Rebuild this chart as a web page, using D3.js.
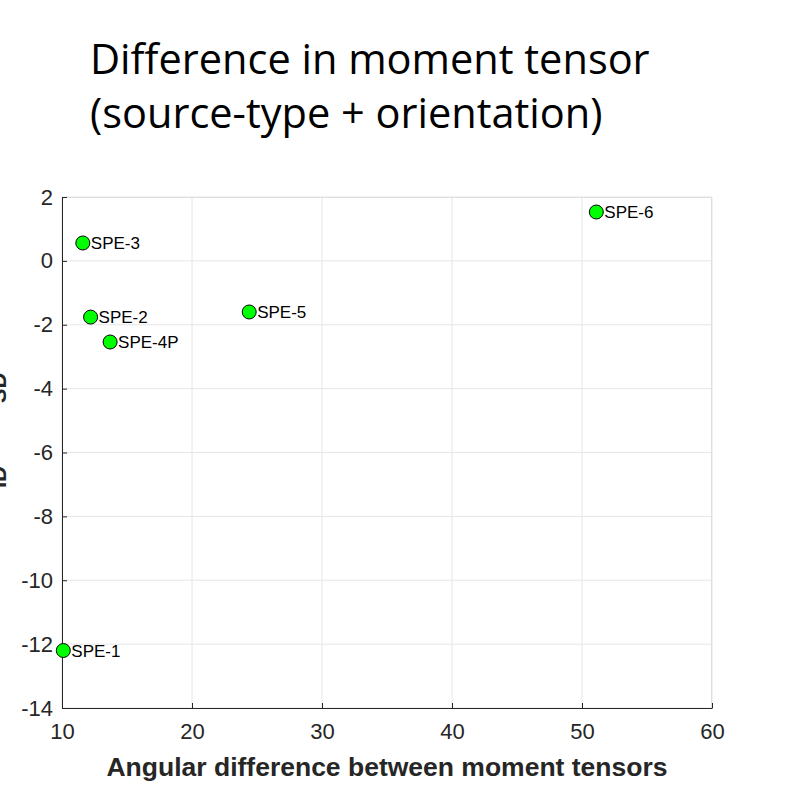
<!DOCTYPE html>
<html>
<head>
<meta charset="utf-8">
<script src="https://cdn.jsdelivr.net/npm/d3@7"></script>
<style>
  body { margin: 0; background: #fff; }
  svg { display: block; }
</style>
</head>
<body>
<div id="chart"></div>
<script>
// data
const names = ["SPE-1", "SPE-2", "SPE-3", "SPE-4P", "SPE-5", "SPE-6"];
const angleDiff = [10.1, 12.2, 11.6, 13.7, 24.4, 51.1];
const sizeDiff = [-12.2, -1.76, 0.56, -2.54, -1.6, 1.53];
const xTicks = [10, 20, 30, 40, 50, 60];
const yTicks = [2, 0, -2, -4, -6, -8, -10, -12, -14];

const width = 803, height = 797;
const margin = { top: 197, right: 91, bottom: 89, left: 62 };
const w = width - margin.left - margin.right;
const h = height - margin.top - margin.bottom;

const svg = d3.select("#chart").append("svg")
  .attr("width", width)
  .attr("height", height);

// title
const title = svg.append("text")
  .attr("font-family", "Open Sans, sans-serif")
  .attr("font-size", 41.5)
  .attr("fill", "#000");
title.append("tspan").attr("x", 90).attr("y", 74).text("Difference in moment tensor");
title.append("tspan").attr("x", 90).attr("y", 128).text("(source-type + orientation)");

const bounds = svg.append("g")
  .attr("transform", `translate(${margin.left},${margin.top})`);

const xScale = d3.scaleLinear().domain([10, 60]).range([0, w]);
const yScale = d3.scaleLinear().domain([-14, 2]).range([h, 0]);

// grid
bounds.append("g").selectAll("line").data(xTicks).join("line")
  .attr("x1", d => xScale(d)).attr("x2", d => xScale(d))
  .attr("y1", 0).attr("y2", h)
  .attr("stroke", "#e6e6e6");
bounds.append("g").selectAll("line").data(yTicks).join("line")
  .attr("x1", 0).attr("x2", w)
  .attr("y1", d => yScale(d)).attr("y2", d => yScale(d))
  .attr("stroke", "#e6e6e6");

// box top / right
bounds.append("path")
  .attr("d", `M0,0.5H${w - 0.5}V${h}`)
  .attr("fill", "none")
  .attr("stroke", "#dedede");

// axes (ticks inward, MATLAB style)
const fmt = d => String(d);
const xAxis = bounds.append("g")
  .attr("transform", `translate(0,${h})`)
  .call(d3.axisBottom(xScale).tickValues(xTicks).tickFormat(fmt)
    .tickSizeInner(-5).tickSizeOuter(0).tickPadding(15));
const yAxis = bounds.append("g")
  .call(d3.axisLeft(yScale).tickValues(yTicks).tickFormat(fmt)
    .tickSizeInner(-5).tickSizeOuter(0).tickPadding(9));

[xAxis, yAxis].forEach(a => {
  a.attr("font-size", null).attr("font-family", null);
  a.select(".domain").attr("stroke", "#262626");
  a.selectAll(".tick line").attr("stroke", "#262626");
  a.selectAll(".tick text")
    .attr("fill", "#262626")
    .attr("font-family", "Liberation Sans, Arial, sans-serif")
    .attr("font-size", 22);
});

// x axis label
svg.append("text")
  .attr("x", margin.left + w / 2)
  .attr("y", 776)
  .attr("text-anchor", "middle")
  .attr("font-family", "Liberation Sans, Arial, sans-serif")
  .attr("font-weight", "bold")
  .attr("font-size", 26.5)
  .attr("fill", "#262626")
  .text("Angular difference between moment tensors");

// y label: cut off by the left edge, only the subscripts peek in
const yParts = [
  { t: "M", y: 510, dx: -3, size: 26 },
  { t: "ID", y: 477, dx: 6, size: 22 },
  { t: "\u2212 M", y: 426, dx: -3, size: 26 },
  { t: "SD", y: 388, dx: 6, size: 22 }
];
svg.append("g").selectAll("text").data(yParts).join("text")
  .attr("transform", d => `translate(${d.dx},${d.y}) rotate(-90)`)
  .attr("text-anchor", "middle")
  .attr("font-family", "Liberation Sans, Arial, sans-serif")
  .attr("font-weight", "bold")
  .attr("font-size", d => d.size)
  .attr("fill", "#262626")
  .text(d => d.t);

// points
const pts = d3.range(names.length).map(i => ({
  name: names[i], x: angleDiff[i], y: sizeDiff[i]
}));

bounds.selectAll("circle").data(pts).join("circle")
  .attr("cx", d => xScale(d.x))
  .attr("cy", d => yScale(d.y))
  .attr("r", 7)
  .attr("fill", "#00ff00")
  .attr("stroke", "#000")
  .attr("stroke-width", 1);

bounds.selectAll(".lbl").data(pts).join("text")
  .attr("class", "lbl")
  .attr("x", d => xScale(d.x) + 8)
  .attr("y", d => yScale(d.y) + 6)
  .attr("font-family", "Liberation Sans, Arial, sans-serif")
  .attr("font-size", 17)
  .attr("fill", "#000")
  .text(d => d.name);
</script>
</body>
</html>
